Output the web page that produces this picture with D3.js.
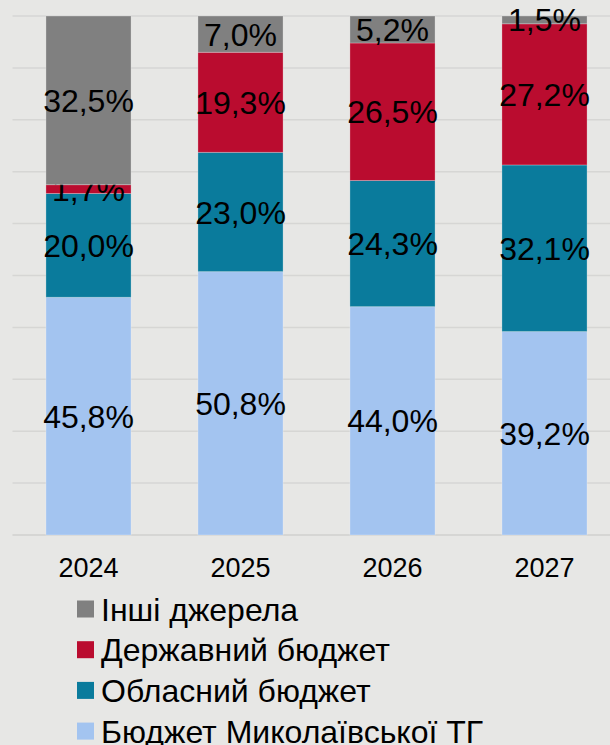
<!DOCTYPE html>
<html>
<head>
<meta charset="utf-8">
<script src="https://cdn.jsdelivr.net/npm/d3@7"></script>
<style>
  body { margin: 0; background: #e7e7e5; }
  svg { display: block; font-family: "Liberation Sans", Arial, sans-serif; }
</style>
</head>
<body>
<svg id="chart" width="610" height="745"></svg>
<script>
/** Data **/
var years = ["2024", "2025", "2026", "2027"];
var seriesNames = ["Бюджет Миколаївської ТГ", "Обласний бюджет", "Державний бюджет", "Інші джерела"];
var tgBudget = [45.8, 50.8, 44.0, 39.2];
var oblBudget = [20.0, 23.0, 24.3, 32.1];
var stateBudget = [1.7, 19.3, 26.5, 27.2];
var otherSources = [32.5, 7.0, 5.2, 1.5];
var seriesColors = ["#a3c4f0", "#0a7b9c", "#ba0c2f", "#808080"];

var svg = d3.select("#chart");
var margin = {top: 16, left: 12.5, bottom: 210};
var width = 608;
var height = 745 - margin.top - margin.bottom;

/** Build rows for the stack **/
var keys = ["tg", "obl", "state", "other"];
var rows = years.map(function (y, i) {
    return {year: y, tg: tgBudget[i], obl: oblBudget[i], state: stateBudget[i], other: otherSources[i]};
});
var stacked = d3.stack().keys(keys).offset(d3.stackOffsetExpand)(rows);

var xScale = d3.scaleBand().domain(years).range([0, width]).paddingInner(0.44).paddingOuter(0.22);
var yScale = d3.scaleLinear().domain([0, 1]).range([height, 0]);

var g = svg.append("g")
    .attr("transform", "translate(" + margin.left + "," + margin.top + ")");

/** Grid lines **/
g.append("g")
    .selectAll("line")
    .data(yScale.ticks(10))
    .enter().append("line")
    .attr("x1", 0)
    .attr("x2", width)
    .attr("y1", function (d) { return yScale(d); })
    .attr("y2", function (d) { return yScale(d); })
    .attr("stroke", "#d6d6d4")
    .attr("stroke-width", function (d) { return d === 0 ? 2 : 1.5; });

/** Bars **/
var layer = g.selectAll(".layer")
    .data(stacked)
    .enter().append("g")
    .attr("class", "layer")
    .attr("fill", function (d, i) { return seriesColors[i]; });

layer.selectAll("rect")
    .data(function (d) { return d; })
    .enter().append("rect")
    .attr("x", function (d) { return xScale(d.data.year); })
    .attr("y", function (d) { return yScale(d[1]); })
    .attr("width", xScale.bandwidth())
    .attr("height", function (d) { return yScale(d[0]) - yScale(d[1]); })
    .attr("stroke", "#ffffff")
    .attr("stroke-opacity", 0.25)
    .attr("stroke-width", 1);

/** Value labels **/
layer.selectAll("text")
    .data(function (d) { return d.map(function (p) { p.key = d.key; return p; }); })
    .enter().append("text")
    .attr("x", function (d) { return xScale(d.data.year) + xScale.bandwidth() / 2; })
    .attr("y", function (d) { return (yScale(d[0]) + yScale(d[1])) / 2; })
    .attr("dy", "0.36em")
    .attr("text-anchor", "middle")
    .attr("fill", "#000")
    .style("font-size", "32px")
    .text(function (d) { return d.data[d.key].toFixed(1).replace(".", ",") + "%"; });

/** X axis labels **/
g.append("g")
    .selectAll("text")
    .data(years)
    .enter().append("text")
    .attr("x", function (d) { return xScale(d) + xScale.bandwidth() / 2; })
    .attr("y", height + 42)
    .attr("text-anchor", "middle")
    .attr("fill", "#000")
    .style("font-size", "27px")
    .text(function (d) { return d; });

/** Legend **/
var legend = svg.append("g").attr("transform", "translate(77,0)");
var legendOrder = [3, 2, 1, 0];
var item = legend.selectAll("g")
    .data(legendOrder)
    .enter().append("g")
    .attr("transform", function (d, i) { return "translate(0," + (609 + i * 40.7) + ")"; });
item.append("rect")
    .attr("x", 0)
    .attr("y", -8.5)
    .attr("width", 17)
    .attr("height", 17)
    .attr("fill", function (d) { return seriesColors[d]; });
item.append("text")
    .attr("x", 24)
    .attr("y", 11.5)
    .attr("fill", "#000")
    .style("font-size", "32px")
    .text(function (d) { return seriesNames[d]; });
</script>
</body>
</html>
